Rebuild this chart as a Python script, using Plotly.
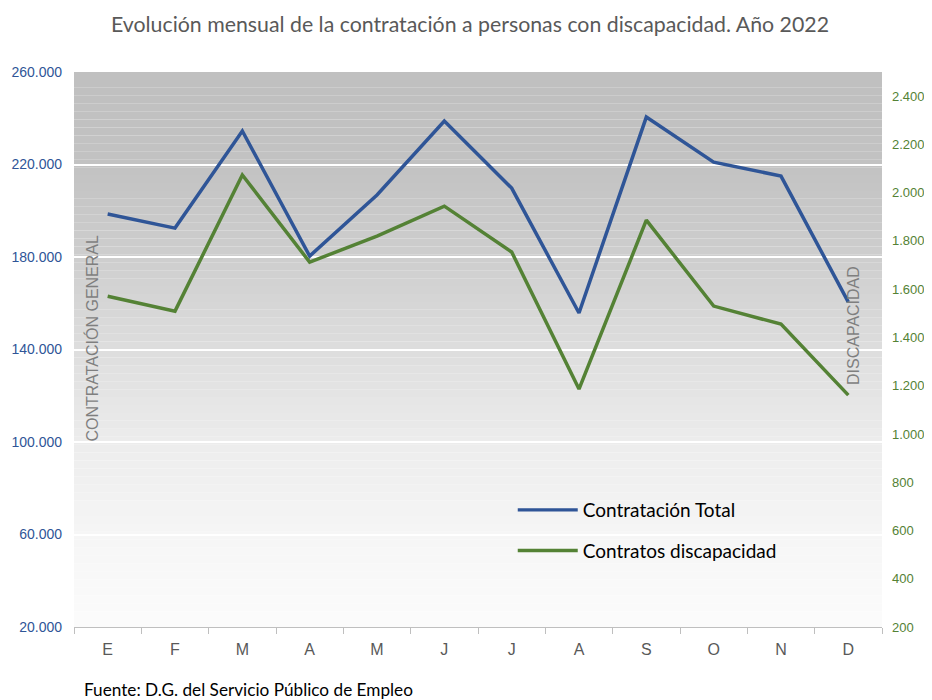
import plotly.graph_objects as go
import numpy as np

# Datos mensuales 2022
meses = ["E", "F", "M", "A", "M", "J", "J", "A", "S", "O", "N", "D"]
contratacion_total = [198600, 192500, 234500, 180400, 206800, 238800,
                      209800, 155800, 240500, 221000, 215000, 160500]
contratos_discapacidad = [1571, 1509, 2073, 1712, 1820, 1944,
                          1754, 1186, 1886, 1530, 1455, 1161]

left_ticks = [20000, 60000, 100000, 140000, 180000, 220000, 260000]
right_ticks = [200, 400, 600, 800, 1000, 1200, 1400, 1600, 1800, 2000, 2200, 2400]

azul = "#2F5597"
verde = "#548235"
x = list(range(len(meses)))

fig = go.Figure()
fig.add_trace(go.Scatter(x=x, y=contratacion_total, mode="lines", name="Contratación Total",
                         line=dict(color=azul, width=3.5), legendgroup="a"))
fig.add_trace(go.Scatter(x=x, y=contratos_discapacidad, mode="lines", name="Contratos discapacidad",
                         line=dict(color=verde, width=3.5), yaxis="y2", legendgroup="b"))

# fondo degradado del área de trazado (gris arriba, casi blanco abajo)
grad_t = [0, 0.17, 0.33, 0.5, 0.67, 0.83, 1.0]
grad_g = [192, 195, 206, 222, 237, 246, 252]
n = 70
for i in range(n):
    t = (i + 0.5) / n
    g = int(np.interp(t, grad_t, grad_g))
    fig.add_shape(type="rect", xref="x domain", yref="y domain",
                  x0=0, x1=1, y0=1 - (i + 1) / n, y1=1 - i / n,
                  fillcolor=f"rgb({g},{g},{g})", line=dict(width=0), layer="below")

# la página añade 8px de margen, así que la figura es 8px más pequeña
fig.update_layout(
    width=924, height=692,
    margin=dict(l=66, r=50, t=64, b=73, autoexpand=False),
    paper_bgcolor="white", plot_bgcolor="rgba(0,0,0,0)",
    separators=",.",
    title=dict(text="Evolución mensual de la contratación a personas con discapacidad. Año 2022",
               x=0.5, xanchor="center", y=0.976, yanchor="middle",
               font=dict(family="Lato, Liberation Sans", size=21.3, color="#595959")),
    xaxis=dict(range=[-0.5, 11.5], tickvals=x, ticktext=meses, ticks="",
               showgrid=False, zeroline=False, showline=True, linecolor="#bfbfbf", linewidth=1,
               minor=dict(ticks="outside", tick0=-0.5, dtick=1, ticklen=6, tickcolor="#bfbfbf", showgrid=False),
               tickfont=dict(family="Liberation Sans", size=16, color="#595959"), ticklabelstandoff=8),
    yaxis=dict(range=[20000, 260000], tickvals=left_ticks, tickformat=",.0f", automargin=False,
               showgrid=True, gridcolor="white", gridwidth=1.5, zeroline=False,
               tickfont=dict(family="Liberation Sans", size=14, color=azul), ticklabelstandoff=11),
    yaxis2=dict(range=[200, 2500], tickvals=right_ticks, tickformat=",.0f", automargin=False,
                overlaying="y", side="right", showgrid=False, zeroline=False,
                tickfont=dict(family="Liberation Sans", size=13, color=verde), ticklabelstandoff=9),
    legend=dict(x=0.543, y=0.245, xanchor="left", yanchor="top", bgcolor="rgba(0,0,0,0)",
                font=dict(family="Lato, Liberation Sans", size=19, color="black"),
                tracegroupgap=13, itemwidth=60),
    annotations=[
        dict(text="CONTRATACIÓN GENERAL", xref="paper", yref="paper", x=0.022, y=0.521,
             xanchor="center", yanchor="middle",
             textangle=-90, showarrow=False, font=dict(family="Liberation Sans", size=16, color="#7f7f7f")),
        dict(text="DISCAPACIDAD", xref="paper", yref="paper", x=0.964, y=0.544,
             xanchor="center", yanchor="middle",
             textangle=-90, showarrow=False, font=dict(family="Liberation Sans", size=16, color="#7f7f7f")),
        dict(text="Fuente: D.G. del Servicio Público de Empleo", xref="paper", yref="paper",
             x=0.01, y=-0.1135, xanchor="left", yanchor="middle", showarrow=False,
             font=dict(family="Lato, Liberation Sans", size=17.2, color="black")),
    ],
)

fig.write_html("out.html")
